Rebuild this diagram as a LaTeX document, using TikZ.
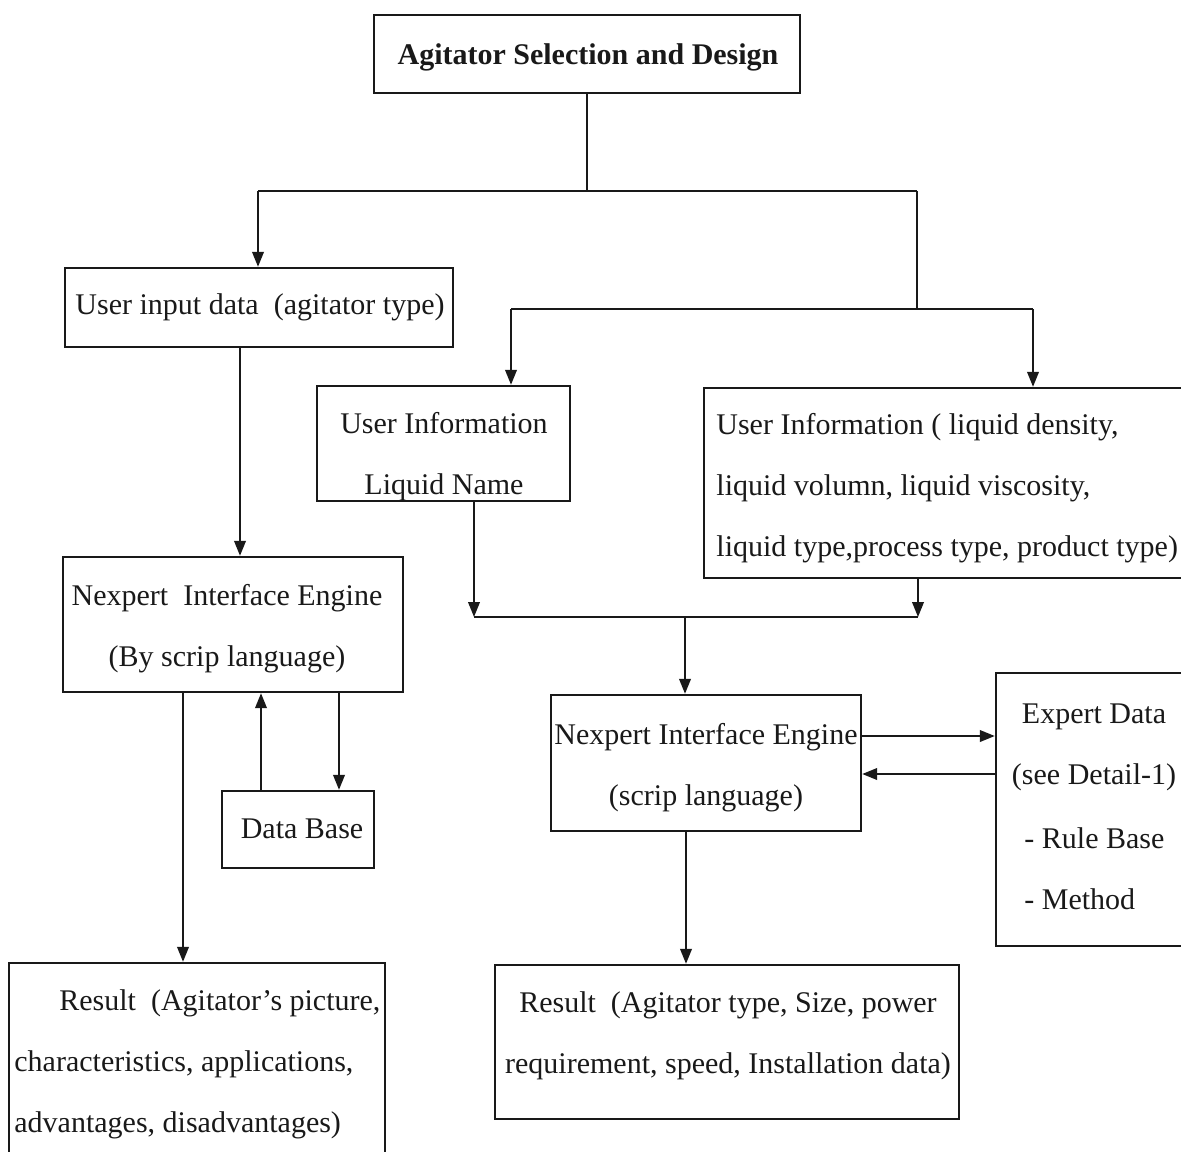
\documentclass[tikz,border=0pt]{standalone}
\usepackage{fontspec}
\setmainfont{Liberation Serif}
\usetikzlibrary{arrows.meta,fit}
\begin{document}
\begin{tikzpicture}[x=0.5pt,y=-0.5pt,
  box/.style={draw=black!90,line width=1.2pt,inner sep=0pt,rectangle},
  txt/.style={inner sep=0pt,font=\fontsize{15}{30.5}\selectfont,text=black!90},
  conn/.style={draw=black!90,line width=1pt},
  arr/.style={conn,-{Triangle[length=7.5pt,width=5.8pt]}}]
\useasboundingbox (0,0) rectangle (1181,1151);
\clip (0,0) rectangle (1181,1151);
% boxes
\node[box,fit={(374,15)(800,93)}] (title) {};
\node[box,fit={(65,268)(453,347)}] (input) {};
\node[box,fit={(317,386)(570,501)}] (info1) {};
\node[box,fit={(704,388)(1220,578)}] (info2) {};
\node[box,fit={(63,557)(403,692)}] (nie1) {};
\node[box,fit={(222,791)(374,868)}] (db) {};
\node[box,fit={(551,695)(861,831)}] (nie2) {};
\node[box,fit={(996,673)(1220,946)}] (expert) {};
\node[box,fit={(9,963)(385,1200)}] (res1) {};
\node[box,fit={(495,965)(959,1119)}] (res2) {};
% texts
\node[txt,font=\fontsize{15}{30.5}\selectfont\bfseries] (titlet) at (588,57) {Agitator Selection and Design};
\node[txt] (inputt) at (260,307) {User input data\ \ (agitator type)};
\node[txt,align=center] (info1t) at (444,456.5) {User Information\\Liquid Name};
\node[txt,align=left,anchor=west] (info2t) at (716,488.5) {User Information ( liquid density,\\liquid volumn, liquid viscosity,\\liquid type,process type, product type)};
\node[txt,align=center] (nie1t) at (227,628.5) {Nexpert\ \ Interface Engine\\(By scrip language)};
\node[txt] (dbt) at (302,829) {Data Base};
\node[txt,align=center] (nie2t) at (706,767.5) {Nexpert Interface Engine\\(scrip language)};
\node[txt,align=center] (expt1) at (1094,747.5) {Expert Data\\(see Detail-1)};
\node[txt,align=left,anchor=west] (expt2) at (1024,868.5) {- Rule Base\\- Method};
\node[txt,align=left,anchor=west] (res1t) at (14,1064.5) {\hspace*{22.5pt}Result\ \ (Agitator’s picture,\\characteristics, applications,\\advantages, disadvantages)};
\node[txt,align=center] (res2t) at (728,1035.5) {Result\ \ (Agitator type, Size, power\\requirement, speed, Installation data)};
% junction coordinates
\coordinate (j1) at (587,191);
\coordinate (jl) at (258,191);
\coordinate (jr) at (917,191);
\coordinate (k1) at (917,309);
\coordinate (kl) at (511,309);
\coordinate (kr) at (1033,309);
\coordinate (m1) at (474,617);
\coordinate (m2) at (918,617);
\coordinate (m3) at (685,617);
% connectors
\draw[conn] (title.south) -- (j1);
\draw[conn] (jl) -- (jr);
\draw[arr] (jl) -- (jl |- input.north);
\draw[conn] (jr) -- (k1);
\draw[conn] (kl) -- (kr);
\draw[arr] (kl) -- (kl |- info1.north);
\draw[arr] (kr) -- (kr |- info2.north);
\draw[arr] (m1 |- info1.south) -- (m1);
\draw[arr] (m2 |- info2.south) -- (m2);
\draw[conn] (m1) -- (m2);
\draw[arr] (m3) -- (m3 |- nie2.north);
\draw[arr] (nie2.east |- 0,736) -- (expert.west |- 0,736);
\draw[arr] (expert.west |- 0,774) -- (nie2.east |- 0,774);
\draw[arr] (686,0 |- nie2.south) -- (686,0 |- res2.north);
\draw[arr] (240,0 |- input.south) -- (240,0 |- nie1.north);
\draw[arr] (261,0 |- db.north) -- (261,0 |- nie1.south);
\draw[arr] (339,0 |- nie1.south) -- (339,0 |- db.north);
\draw[arr] (183,0 |- nie1.south) -- (183,0 |- res1.north);
\end{tikzpicture}
\end{document}
